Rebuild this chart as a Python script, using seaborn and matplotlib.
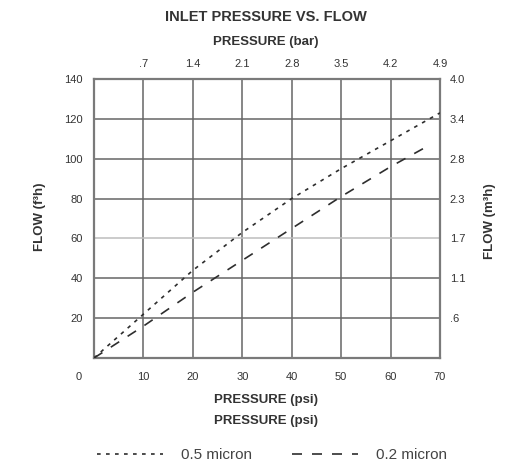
import matplotlib
matplotlib.use("Agg")

import matplotlib.pyplot as plt
import seaborn as sns
import pandas as pd

# data
psi_05 = [0, 10, 20, 30, 40, 50, 60, 70]
flow_05 = [0, 22, 44, 63, 80, 95, 109, 123]
psi_02 = [0, 10, 20, 30, 40, 50, 60, 68]
flow_02 = [0, 16, 33, 49, 65, 81, 96, 107]

psi_ticks = [10, 20, 30, 40, 50, 60, 70]
bar_labels = [".7", "1.4", "2.1", "2.8", "3.5", "4.2", "4.9"]
ft3_ticks = [20, 40, 60, 80, 100, 120, 140]
m3_labels = [".6", "1.1", "1.7", "2.3", "2.8", "3.4", "4.0"]

sns.set_style("white")
plt.rcParams["font.family"] = ["Liberation Sans", "DejaVu Sans"]

LINE = "#2e2e2e"
GRID = "#666666"
TXT = "#333333"

fig = plt.figure(figsize=(5.27, 4.66), dpi=100)
ax = fig.add_axes([94 / 527, 1 - 358 / 466, 346 / 527, 279 / 466])

df05 = pd.DataFrame({"psi": psi_05, "flow": flow_05})
df02 = pd.DataFrame({"psi": psi_02, "flow": flow_02})
sns.lineplot(data=df05, x="psi", y="flow", ax=ax, color=LINE, lw=1.2,
             dashes=False, label="0.5 micron", zorder=3)
sns.lineplot(data=df02, x="psi", y="flow", ax=ax, color=LINE, lw=1.2,
             dashes=False, label="0.2 micron", zorder=3)
ax.lines[0].set_dashes((2.2, 3.2))
ax.lines[1].set_dashes((6, 6))
ax.get_legend().remove()

ax.set_xlim(0, 70)
ax.set_ylim(0, 140)
ax.set_xticks(psi_ticks)
ax.set_yticks(ft3_ticks)
ax.set_yticklabels([str(v) for v in ft3_ticks])
ax.set_xticklabels([str(v) for v in psi_ticks])
for v in psi_ticks[:-1]:
    ax.axvline(v, color=GRID, lw=1.1, zorder=1)
for v in ft3_ticks[:-1]:
    ax.axhline(v, color="#bdbdbd" if v == 60 else GRID, lw=1.1, zorder=1)
for s in ax.spines.values():
    s.set_color("#7a7a7a")
    s.set_linewidth(1.6)
ax.tick_params(axis="x", length=0, pad=10, labelsize=8, labelcolor=TXT)
ax.tick_params(axis="y", length=0, pad=8, labelsize=8, labelcolor=TXT)
ax.annotate("0", xy=(0, 0), xycoords="axes fraction", xytext=(-15, -13.5),
            textcoords="offset pixels", ha="center", va="top",
            fontsize=8, color=TXT)

top = ax.secondary_xaxis("top")
top.set_xticks(psi_ticks)
top.set_xticklabels(bar_labels)
top.tick_params(length=0, pad=7, labelsize=8, labelcolor=TXT)
top.spines["top"].set_visible(False)

right = ax.secondary_yaxis("right")
right.set_yticks(ft3_ticks)
right.set_yticklabels(m3_labels)
right.tick_params(length=0, pad=7, labelsize=8, labelcolor=TXT)
right.spines["right"].set_visible(False)

ax.set_xlabel("")
ax.set_ylabel("")

fig.text(0.505, 1 - 17 / 466, "INLET PRESSURE VS. FLOW", ha="center",
         va="center", fontsize=10.5, fontweight="bold", color=TXT)
fig.text(0.505, 1 - 42 / 466, "PRESSURE (bar)", ha="center", va="center",
         fontsize=9.5, fontweight="bold", color=TXT)
fig.text(0.505, 1 - 400 / 466, "PRESSURE (psi)", ha="center", va="center",
         fontsize=9.5, fontweight="bold", color=TXT)
fig.text(0.505, 1 - 421 / 466, "PRESSURE (psi)", ha="center", va="center",
         fontsize=9.5, fontweight="bold", color=TXT)
fig.text(40 / 527, 1 - 217 / 466, "FLOW (f³h)", ha="center", va="center",
         rotation=90, fontsize=9.5, fontweight="bold", color=TXT)
fig.text(490 / 527, 1 - 221 / 466, "FLOW (m³h)", ha="center", va="center",
         rotation=90, fontsize=9.5, fontweight="bold", color=TXT)

handles, labels = ax.get_legend_handles_labels()
fig.legend(handles, labels, loc="center", bbox_to_anchor=(272 / 527, 1 - 455 / 466),
           ncol=2, frameon=False, handlelength=4.3, handletextpad=1.2,
           columnspacing=2.6, fontsize=11, labelcolor="#444444")

fig.savefig("out.png", dpi=100)
